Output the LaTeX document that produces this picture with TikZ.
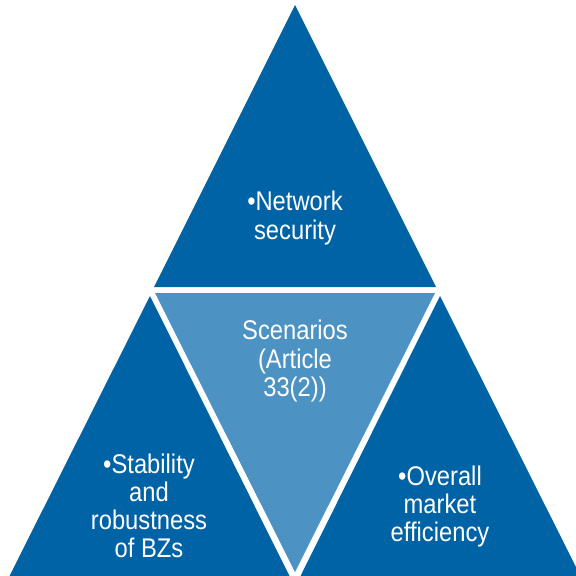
\documentclass[tikz,border=0pt]{standalone}
\usepackage{fontspec}
\setmainfont{Liberation Sans}[FakeStretch=0.88]
\definecolor{darkb}{RGB}{0,99,166}
\definecolor{lightb}{RGB}{76,146,194}
\begin{document}
\begin{tikzpicture}[x=1pt,y=-1pt,
  lbl/.style={text=white, anchor=base, font=\fontsize{27}{30}\selectfont, inner sep=0pt}]
\useasboundingbox (0,0) rectangle (576,576);
\clip (0,0) rectangle (576,576);
% triangles
\fill[darkb] (295,5) -- (436,287) -- (154,287) -- cycle;
\fill[lightb] (155,293) -- (435,293) -- (295,572) -- cycle;
\fill[darkb] (150,296) -- (290,577) -- (9,577) -- cycle;
\fill[darkb] (440,296) -- (581,577) -- (300,577) -- cycle;
% top
\node[lbl] (t1) at (295,210) {•Network};
\node[lbl] (t2) at (295,239) {security};
% middle
\node[lbl] (m1) at (295,339) {Scenarios};
\node[lbl] (m2) at (295,368) {(Article};
\node[lbl] (m3) at (295,396) {33(2))};
% left
\node[lbl] (l1) at (149,473) {•Stability};
\node[lbl] (l2) at (149,501) {and};
\node[lbl] (l3) at (149,529) {robustness};
\node[lbl] (l4) at (149,557) {of BZs};
% right
\node[lbl] (r1) at (440,485) {•Overall};
\node[lbl] (r2) at (440,513) {market};
\node[lbl] (r3) at (440,541) {efficiency};
\end{tikzpicture}
\end{document}
